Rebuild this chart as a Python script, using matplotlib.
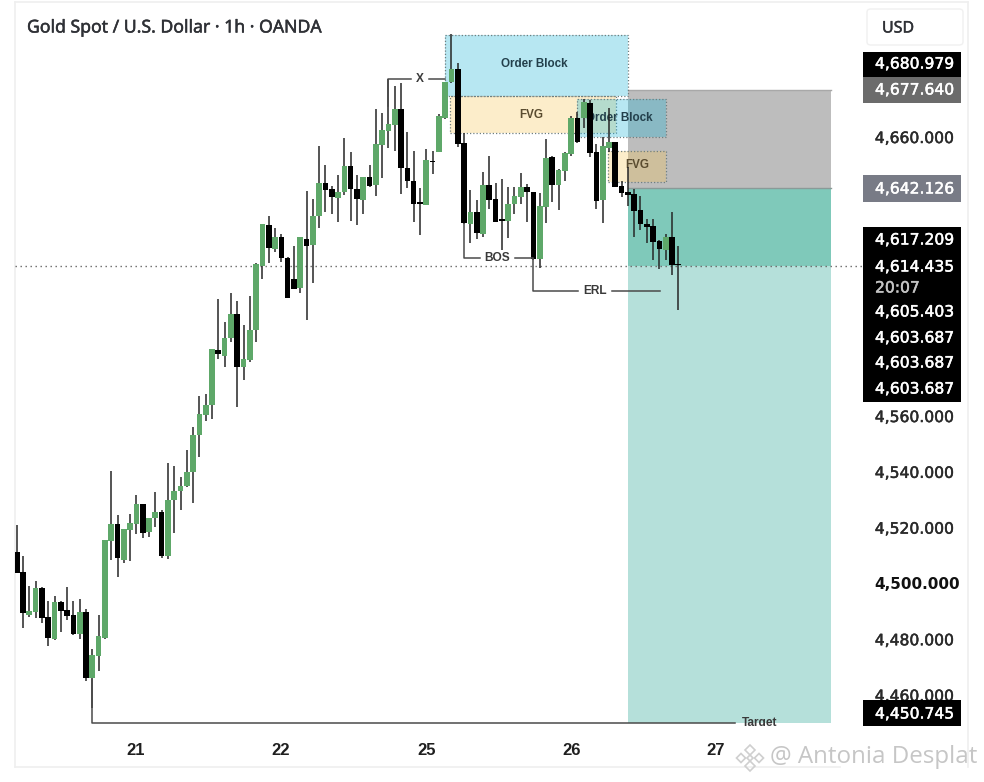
import matplotlib
matplotlib.use("Agg")
import matplotlib.pyplot as plt
import matplotlib.patheffects as pe
from matplotlib.patches import Rectangle, FancyBboxPatch, Polygon

W, H = 984, 782

highs = [4520.9,4509.8,4499.2,4500.9,4498.8,4493.8,4495.6,4493.8,4498.6,4493.8,4494.4,4490.7,4476.5,4488.7,4515.6,
 4540.4,4524.5,4519.5,4524.8,4531.7,4528.5,4523.6,4532.7,4526.3,4543.3,4542.2,4538.2,4547.8,4556.1,4567.3,4567.9,
 4584.0,4601.8,4593.8,4604.2,4601.3,4592.6,4603.0,4614.7,4628.8,4631.7,4627.3,4625.1,4616.9,4621.0,4624.3,4640.6,
 4637.8,4656.9,4650.0,4642.4,4646.4,4659.6,4654.6,4646.4,4645.8,4650.0,4670.0,4668.6,4680.8,4678.3,4679.4,4661.8,
 4655.0,4641.8,4655.7,4655.1,4668.2,4679.8,4696.9,4686.6,4661.4,4641.0,4637.4,4647.6,4653.2,4643.6,4644.9,4642.2,
 4642.2,4647.1,4643.2,4640.4,4639.9,4659.3,4653.2,4648.5,4654.7,4667.5,4669.1,4673.6,4673.3,4657.5,4660.1,4670.4,
 4658.3,4644.2,4649.2,4641.4,4638.9,4630.6,4630.6,4623.1,4625.2,4633.0,4620.9]
body_tops = [4511.1,4504.0,4490.1,4498.3,4498.5,4488.0,4493.2,4493.4,4490.5,4488.6,4489.6,4489.9,4474.2,4481.1,4515.6,
 4521.3,4521.2,4519.5,4521.8,4528.4,4528.5,4523.6,4525.7,4525.7,4529.9,4533.2,4535.0,4539.8,4553.2,4560.7,4563.9,
 4584.0,4583.7,4588.1,4596.6,4596.6,4580.4,4590.8,4614.5,4628.7,4628.5,4624.3,4624.3,4616.7,4609.1,4624.0,4623.4,
 4631.7,4643.5,4643.6,4641.4,4640.4,4649.6,4649.6,4641.4,4645.7,4645.7,4657.5,4662.5,4664.7,4670.0,4670.0,4648.9,
 4644.3,4636.3,4651.8,4651.1,4667.5,4679.7,4684.4,4684.4,4657.8,4633.1,4633.1,4642.8,4642.8,4637.8,4630.2,4636.0,
 4638.9,4642.1,4642.1,4640.4,4635.3,4652.5,4652.8,4648.2,4654.4,4666.9,4666.9,4672.6,4672.3,4654.6,4656.8,4658.1,
 4658.1,4642.4,4640.2,4639.5,4633.8,4628.7,4628.1,4622.7,4624.3,4624.3,4614.5]
body_bottoms = [4503.6,4489.3,4488.7,4489.9,4487.7,4480.5,4480.2,4490.1,4488.4,4481.9,4481.9,4466.0,4466.0,4474.1,4480.3,
 4515.3,4509.0,4508.4,4519.2,4521.3,4518.2,4518.5,4523.3,4509.8,4509.8,4529.9,4533.1,4535.0,4540.0,4553.2,4560.4,
 4563.9,4582.1,4581.6,4587.8,4577.5,4577.5,4580.1,4590.8,4613.9,4620.1,4619.9,4616.5,4602.2,4605.4,4605.8,4621.0,
 4621.3,4631.7,4641.0,4638.5,4638.2,4640.4,4641.4,4637.8,4637.4,4642.5,4642.8,4657.1,4662.3,4664.3,4648.9,4644.2,
 4636.1,4636.1,4635.6,4650.9,4654.7,4666.8,4679.7,4657.5,4629.2,4628.8,4625.6,4625.2,4637.4,4629.6,4629.9,4629.9,
 4636.0,4638.6,4640.3,4616.3,4616.3,4635.0,4642.8,4642.8,4647.9,4653.9,4658.1,4666.8,4654.3,4637.2,4637.4,4656.1,
 4642.2,4640.0,4639.3,4633.6,4628.7,4627.7,4622.5,4619.8,4619.5,4614.1,4614.0]
lows = [4503.6,4483.9,4488.1,4487.5,4485.7,4477.6,4479.7,4482.7,4486.9,4481.5,4480.1,4465.1,4455.4,4468.6,4480.0,
 4508.4,4502.2,4507.2,4508.0,4517.7,4516.2,4516.5,4520.3,4509.0,4508.6,4518.0,4526.3,4534.7,4528.8,4545.4,4558.2,
 4558.9,4580.3,4577.5,4586.6,4563.1,4572.9,4579.5,4586.6,4609.0,4614.7,4618.9,4615.1,4602.2,4605.4,4604.2,4594.4,
 4607.8,4627.4,4633.2,4632.4,4629.6,4639.2,4630.0,4628.5,4632.4,4642.1,4639.0,4645.4,4656.1,4655.0,4639.6,4641.7,
 4629.5,4624.9,4635.6,4646.7,4654.7,4666.4,4679.4,4656.5,4628.8,4622.1,4623.4,4624.0,4634.2,4629.6,4619.5,4623.8,
 4632.4,4636.0,4629.6,4615.9,4613.0,4629.2,4636.8,4633.8,4644.2,4653.2,4657.8,4663.2,4652.9,4634.2,4629.2,4654.7,
 4642.1,4638.6,4635.3,4624.3,4626.7,4622.0,4615.9,4612.7,4615.9,4610.5,4598.0]
up_candles = [2,3,6,10,12,13,14,15,17,18,19,21,22,24,25,26,27,28,29,30,31,33,34,36,37,38,39,41,45,47,48,51,52,55,57,58,59,60,
 65,67,68,69,72,74,78,79,80,83,84,86,87,88,90,93,94,103]

day_ticks = [18.8, 41.9, 65, 88, 111]
day_labels = ["21", "22", "25", "26", "27"]
price_ticks = [4660, 4560, 4540, 4520, 4500, 4480, 4460]
price_labels = ["4,660.000", "4,560.000", "4,540.000", "4,520.000", "4,500.000", "4,480.000", "4,460.000"]

stop_level, entry_level, last_level, target_level = 4676.9, 4641.7, 4613.8, 4450.0
zone_start, zone_end = 97.0, 129.2
order_block_1 = (68.0, 97.0, 4674.7, 4696.6)
fvg_1 = (68.8, 95.1, 4661.4, 4674.7)
order_block_2 = (88.9, 103.05, 4660.0, 4673.6)
fvg_2 = (93.85, 103.05, 4643.9, 4655.0)

GREEN, BLACK = "#5ea869", "#000000"
WICK = "#262626"

fig = plt.figure(figsize=(W / 100, H / 100), dpi=100, facecolor="white")
L, R, T, B = 15, 862, 2, 731
ax = fig.add_axes([L / W, 1 - B / H, (R - L) / W, (B - T) / H])
ax.set_xlim((L - 16.7) / 6.301, (R - 16.7) / 6.301)
ax.set_ylim(4709.1 - 0.3584 * B, 4709.1 - 0.3584 * T)
for s in ax.spines.values():
    s.set_visible(False)
ax.set_facecolor("none")

def px(x, y):
    return x / W, 1 - y / H

def thick(lw, color):
    return [pe.withStroke(linewidth=lw, foreground=color)]

# frame
for xs, ys in [((15, 15), (2, 767)), ((15, 968), (2, 2)), ((968, 968), (2, 767)), ((15, 840), (767, 767))]:
    fig.add_artist(plt.Line2D([x / W for x in xs], [1 - y / H for y in ys], color="#efefef", lw=1.2, zorder=-1))

# trade zones
ax.add_patch(Rectangle((zone_start, entry_level), zone_end - zone_start, stop_level - entry_level, fc="#bdbdbd", ec="none", zorder=1))
ax.plot([zone_start, zone_end], [stop_level, stop_level], color="#a8a8a8", lw=1, zorder=1.1)
ax.plot([zone_start, zone_end], [entry_level, entry_level], color="#8a9a98", lw=1, zorder=1.1)
ax.add_patch(Rectangle((zone_start, last_level), zone_end - zone_start, entry_level - last_level, fc="#7fc9ba", ec="none", zorder=1))
ax.add_patch(Rectangle((zone_start, target_level), zone_end - zone_start, last_level - target_level, fc="#b5e0da", ec="none", zorder=1))

ax.plot(ax.get_xlim(), [last_level, last_level], color="#666666", lw=1, ls=(0, (1, 2.6)), zorder=1.5)

def box(b, color, z):
    x0, x1, y0, y1 = b
    ax.add_patch(Rectangle((x0, y0), x1 - x0, y1 - y0, fc=matplotlib.colors.to_rgba(color, 0.3), ec="none", zorder=z))
    ax.add_patch(Rectangle((x0, y0), x1 - x0, y1 - y0, fc="none", ec="#6f7f80", lw=0.9, ls=(0, (1, 1.6)), zorder=z + 0.05))

box(order_block_1, "#12b2d7", 2)
box(fvg_1, "#f8c652", 2)
box(fvg_2, "#f8c652", 2.1)
box(order_block_2, "#12b2d7", 2.2)

lab = dict(family="Liberation Sans", fontsize=8.4, fontweight="bold", ha="center", va="center", zorder=2.6)
ax.text((order_block_1[0] + order_block_1[1]) / 2 - 0.3, 4686.0, "Order Block", color="#23404c", **lab)
ax.text((fvg_1[0] + fvg_1[1]) / 2 - 0.3, 4668.0, "FVG", color="#5a4c30", **lab)
ax.text((order_block_2[0] + order_block_2[1]) / 2 - 0.3, 4666.8, "Order Block", color="#23404c", **lab)
ax.text((fvg_2[0] + fvg_2[1]) / 2, 4649.8, "FVG", color="#5a4c30", **lab)

# candles
xs = list(range(len(highs)))
ax.vlines(xs, lows, highs, color=WICK, lw=1.1, zorder=3)
colors = [GREEN if i in up_candles else BLACK for i in xs]
heights = [max(t - b, 0.6) for t, b in zip(body_tops, body_bottoms)]
ax.bar(xs, heights, bottom=body_bottoms, width=0.9, color=colors, edgecolor="none", zorder=3.2)

# annotation lines (figure pixel space)
LINE = "#4a4a4a"
def seg(pts, color=LINE, lw=1.1):
    fig.add_artist(plt.Line2D([p[0] / W for p in pts], [1 - p[1] / H for p in pts], color=color, lw=lw, zorder=2))

seg([(388, 106), (388, 79), (411, 79)])
seg([(429, 79), (445, 79)])
seg([(464, 224), (464, 258), (480, 258)])
seg([(515, 258), (533, 258)])
seg([(533, 259), (533, 291), (578, 291)])
seg([(612, 291), (660, 291)])
seg([(92, 680), (92, 723), (735, 723)])

ann = dict(family="Liberation Sans", fontsize=8.6, fontweight="bold", color="#3a3a3a", ha="center", va="center")
fig.text(*px(420, 79), "X", **ann)
fig.text(*px(497, 258), "BOS", **ann)
fig.text(*px(595, 291), "ERL", **ann)
t = fig.text(*px(760, 723), "Target", **ann)
t.set_clip_path(Rectangle((730, H - 726), 60, 12, transform=None))
t.set_clip_on(True)

# x tick labels
ax.set_xticks(day_ticks)
ax.set_xticklabels(day_labels, family="Liberation Sans", fontsize=12, fontweight="bold", color="#1f1f1f")
ax.tick_params(axis="x", length=0, pad=8.5)

# y tick labels
ax.yaxis.tick_right()
ax.set_yticks(price_ticks)
ax.set_yticklabels(price_labels, family="DejaVu Sans", fontsize=11.2, color="#2a2a2a")
ax.tick_params(axis="y", length=0, pad=9.2)
for lbl, v in zip(ax.get_yticklabels(), price_ticks):
    lbl.set_path_effects(thick(0.35, "#2a2a2a"))
    if v == 4500:
        lbl.set_fontweight("bold")
        lbl.set_fontsize(11.0)
        lbl.set_color("#111111")
        lbl.set_path_effects([])

# title
fig.text(*px(27, 27.5), "Gold Spot / U.S. Dollar · 1h · OANDA", family="Noto Sans", fontsize=12.7,
         color="#2f3136", ha="left", va="center", zorder=6, path_effects=thick(0.35, "#2f3136"))

# USD box
fig.add_artist(FancyBboxPatch((867 / W, 1 - 45 / H), 96 / W, 36 / H, boxstyle="round,pad=0,rounding_size=0.004",
                              transform=fig.transFigure, fc="white", ec="#f0f0f0", lw=1, zorder=4))
fig.text(*px(882, 28.5), "USD", family="Noto Sans", fontsize=11.5, color="#2f3136", ha="left", va="center", zorder=6,
         path_effects=thick(0.3, "#2f3136"))

# price boxes
def pbox(y0, y1, color):
    fig.add_artist(Rectangle((862.5 / W, 1 - y1 / H), 98.5 / W, (y1 - y0) / H, transform=fig.transFigure, fc=color, ec="none", zorder=4))

pbox(52, 77, "#000000")
pbox(77, 103, "#6b6b6b")
pbox(175, 202, "#787b86")
pbox(227, 402, "#000000")
pbox(700, 726, "#000000")

stack_labels = ["4,680.979", "4,677.640", "4,642.126", "4,617.209", "4,614.435", "20:07",
                "4,605.403", "4,603.687", "4,603.687", "4,603.687", "4,450.745"]
stack_y = [64, 90, 189, 240, 267, 288, 312, 338, 363, 389, 714]
for s, y in zip(stack_labels, stack_y):
    c = "#c4c4c4" if s == "20:07" else "white"
    fig.text(*px(875, y), s, family="DejaVu Sans", fontsize=11.2, color=c, ha="left", va="center", zorder=6,
             path_effects=thick(0.35, c))

# watermark
WM = "#cfcfcf"
for cx, cy, r in [(750, 750, 5), (741, 758, 4.5), (759, 758, 4.5), (750, 766, 5), (750, 758, 3)]:
    fig.add_artist(Polygon([px(cx, cy - r), px(cx + r, cy), px(cx, cy + r), px(cx - r, cy)], closed=True,
                           transform=fig.transFigure, fc="none", ec=WM, lw=1.2, zorder=6))
fig.text(*px(770, 757), "@ Antonia Desplat", family="Open Sans", fontsize=17.4, color="#c6c6c6",
         ha="left", va="center", zorder=6)

fig.savefig("out.png", dpi=100, facecolor="white")
